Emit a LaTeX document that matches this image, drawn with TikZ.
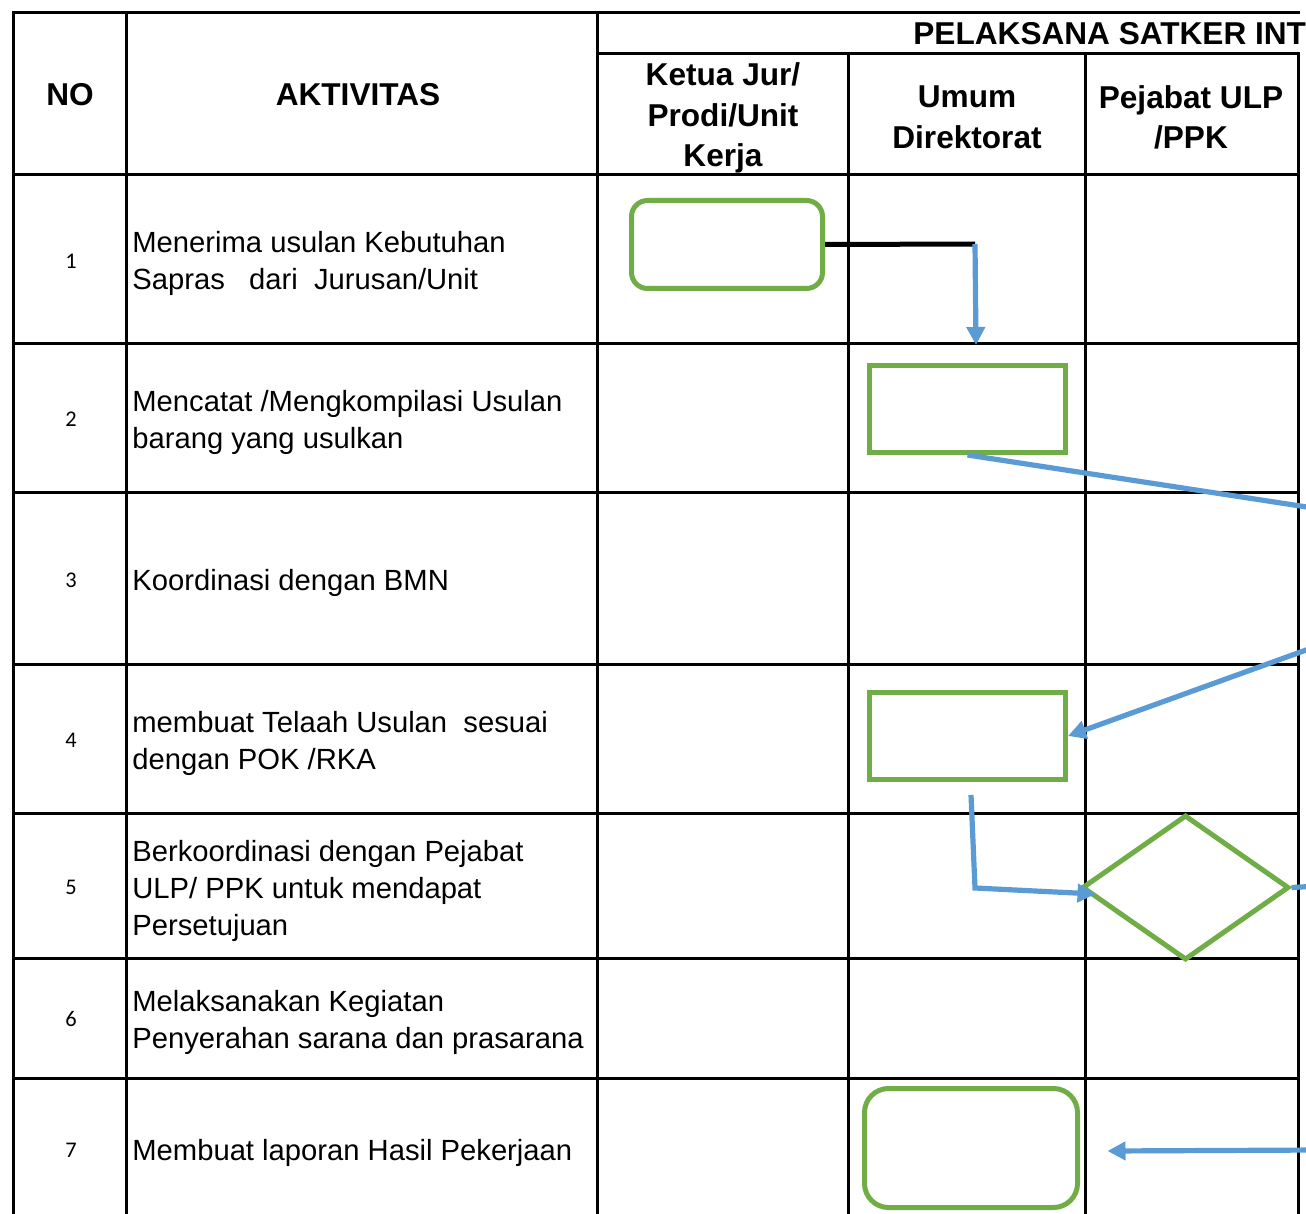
\documentclass[tikz,border=0pt]{standalone}
\usepackage{fontspec}
\setmainfont{Liberation Sans}
\newfontfamily\numfont{Carlito}
\usetikzlibrary{shapes}
\usetikzlibrary{arrows.meta}
\definecolor{flowgreen}{RGB}{112,173,71}
\definecolor{flowblue}{RGB}{91,155,213}

\begin{document}
\begin{tikzpicture}[x=0.5pt,y=-0.5pt,
		grid/.style={line width=1.5pt,line cap=rect},
		head/.style={font=\fontsize{15.8}{20.25}\selectfont\bfseries,align=center,inner sep=0},
		act/.style={font=\fontsize{14.6}{18.5}\selectfont,align=left,anchor=west,inner sep=0},
		num/.style={font=\numfont\fontsize{11.2}{13}\selectfont,inner sep=0},
		term/.style={draw=flowgreen,line width=2.5pt,rounded corners=8pt,inner sep=0},
		proc/.style={draw=flowgreen,line width=2.5pt,inner sep=0,minimum width=98pt,minimum height=43.5pt},
		decide/.style={draw=flowgreen,line width=2.5pt,diamond,inner sep=0},
		flow/.style={draw=flowblue,line width=2.6pt},
		arr/.style={flow,-{Triangle[length=9pt,width=9pt]}}]
		\useasboundingbox (0,0) rectangle (1306,1214);
		\clip (0,0) rectangle (1306,1214);

		% table
		\draw[grid] (13,13) -- (1298,13);
		\draw[grid] (597,54) -- (1298,54);
		\foreach \y in {175,343,492,664,813,958,1078}
			\draw[grid] (13,\y) -- (1298,\y);
		\foreach \x in {13,126,597}
			\draw[grid] (\x,13) -- (\x,1230);
		\foreach \x in {848,1085,1298}
			\draw[grid] (\x,54) -- (\x,1230);

		% header
		\node[head] (no) at (70,95) {NO};
		\node[head] (aktivitas) at (358,95) {AKTIVITAS};
		\node[head,anchor=west] (pelaksana) at (913,34) {PELAKSANA SATKER INT};
		\node[head] (ketua) at (723,118) {Ketua Jur/\\Prodi/Unit\\Kerja};
		\node[head] (umum) at (967,117.5) {Umum\\Direktorat};
		\node[head] (ulp) at (1191,117.5) {Pejabat ULP\\/PPK};

		% rows
		\node[num] (n1) at (71,261) {1};
		\node[act] (a1) at (132,263.5) {Menerima usulan Kebutuhan\\Sapras\ \ \ dari\ \ Jurusan/Unit};
		\node[num] (n2) at (71,419) {2};
		\node[act] (a2) at (132,422) {Mencatat /Mengkompilasi Usulan\\barang yang usulkan};
		\node[num] (n3) at (71,580) {3};
		\node[act] (a3) at (132,583) {Koordinasi dengan BMN};
		\node[num] (n4) at (71,740) {4};
		\node[act] (a4) at (132,743) {membuat Telaah Usulan\ \ sesuai\\dengan POK /RKA};
		\node[num] (n5) at (71,887) {5};
		\node[act] (a5) at (132,890.5) {Berkoordinasi dengan Pejabat\\ULP/ PPK untuk mendapat\\Persetujuan};
		\node[num] (n6) at (71,1019) {6};
		\node[act] (a6) at (132,1022.5) {Melaksanakan Kegiatan\\Penyerahan sarana dan prasarana};
		\node[num] (n7) at (71,1150) {7};
		\node[act] (a7) at (132,1153) {Membuat laporan Hasil Pekerjaan};

		% flow shapes
		\node[term,minimum width=95.5pt,minimum height=44pt] (usul) at (727,244.5) {};
		\node[proc] (catat) at (967.5,409) {};
		\node[proc] (telaah) at (967.5,736) {};
		\node[decide,minimum width=103.5pt,minimum height=72.5pt] (setuju) at (1185.5,887.5) {};
		\node[term,rounded corners=12pt,minimum width=106.5pt,minimum height=59.5pt] (lapor) at (971,1148) {};

		\coordinate (k1) at (975,244);
		\coordinate (k2) at (976,345);
		\coordinate (e1) at (1320,509);
		\coordinate (e2) at (1320,645);
		\coordinate (b4) at (971,795);
		\coordinate (b5) at (975,888);
		\coordinate (e3) at (1320,886);
		\coordinate (e4) at (1320,1150);

		% connectors
		\draw[line width=2.5pt] (usul.east) -- (k1);
		\draw[arr] (k1) -- (k2);
		\draw[flow] (catat.south) -- (e1);
		\draw[arr] (e2) -- (telaah.east);
		\draw[arr] (b4) -- (b5) -- ([xshift=8pt,yshift=-3.25pt]setuju.west);
		\draw[flow] (setuju.east) -- (e3);
		\draw[arr] (e4) -- ([xshift=13.75pt,yshift=-1.5pt]lapor.east);
\end{tikzpicture}
\end{document}
